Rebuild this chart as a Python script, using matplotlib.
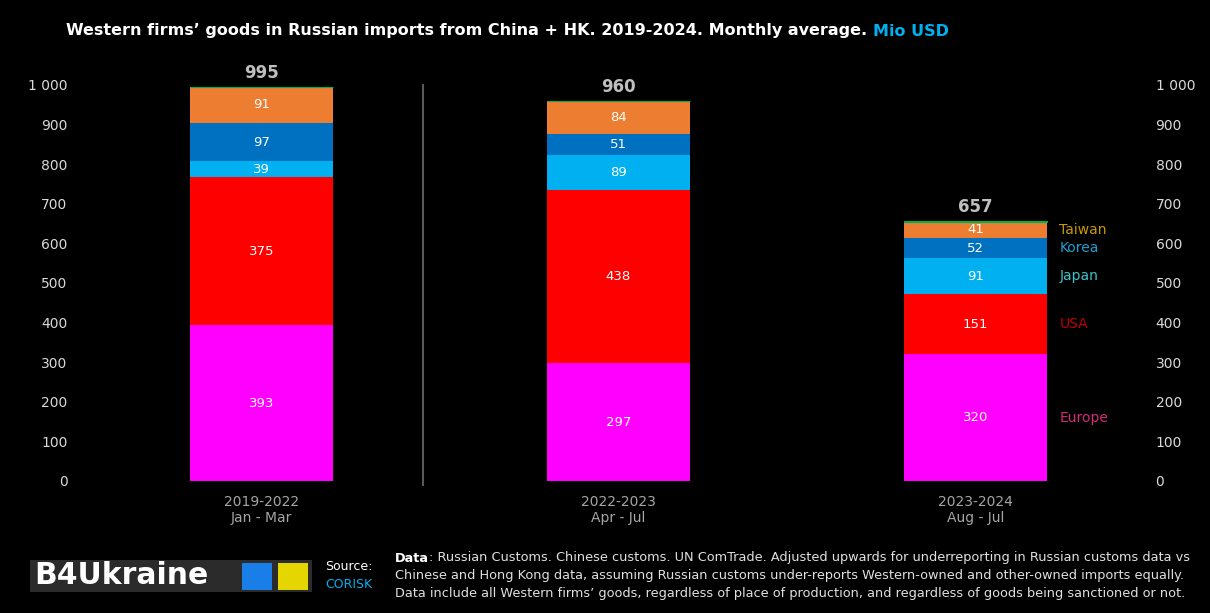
import matplotlib
matplotlib.use('Agg')
import matplotlib.pyplot as plt
from matplotlib.patches import Rectangle

# data (Mio USD, monthly average)
periods = ['2019-2022\nJan - Mar', '2022-2023\nApr - Jul', '2023-2024\nAug - Jul']
regions = ['Europe', 'USA', 'Japan', 'Korea', 'Taiwan', 'Other']
europe = [393, 297, 320]
usa = [375, 438, 151]
japan = [39, 89, 91]
korea = [97, 51, 52]
taiwan = [91, 84, 41]
other = [1, 1, 2]
totals = [995, 960, 657]

seg_colors = ['#ff00ff', '#ff0000', '#00b0f0', '#0070c0', '#ed7d31', '#00b050']
name_colors = ['#d42a78', '#c00000', '#3ec4c8', '#1ea0d2', '#c99a00']

W, H = 1210, 613
fig = plt.figure(figsize=(W / 100, H / 100), dpi=100, facecolor='black')

ax = fig.add_axes([80 / W, (H - 481) / H, (1150 - 80) / W, (481 - 60) / H])
ax.set_facecolor('black')
x = [0, 1, 2]
series = [europe, usa, japan, korea, taiwan, other]

bottom = [0, 0, 0]
for vals, col in zip(series, seg_colors):
    if col == '#00b050':
        # tiny "other" slice on top, drawn with an edge so it shows as a thin line
        ax.bar(x, vals, bottom=bottom, width=0.4, color=col, edgecolor=col, lw=0.8)
    else:
        ax.bar(x, vals, bottom=bottom, width=0.4, color=col, edgecolor='none')
        for i in x:
            ax.text(i, bottom[i] + vals[i] / 2, str(vals[i]), ha='center', va='center',
                    color='white', fontsize=9.5)
    bottom = [b + v for b, v in zip(bottom, vals)]

for i in x:
    ax.text(i, bottom[i] + 12, str(totals[i]), ha='center', va='bottom',
            color='#bfbfbf', fontsize=12, fontweight='bold')

# region names next to last bar
b = 0
for name, vals, col in zip(regions[:5], series[:5], name_colors):
    ax.text(2.235, b + vals[2] / 2, name, ha='left', va='center', color=col, fontsize=10)
    b += vals[2]

# separator line between first and second bar
ax.plot([0.452, 0.452], [1000, -10], color='#595959', lw=1.5, clip_on=False)

ax.set_xlim(-(261.5 - 80) / 357, 2 + (1150 - 975.5) / 357)
ax.set_ylim(0, 1063)
yt = list(range(0, 1001, 100))
ylab = ['1 000' if v == 1000 else str(v) for v in yt]
ax.set_yticks(yt)
ax.set_yticklabels(ylab)
ax.set_xticks(x)
ax.set_xticklabels(periods)
ax.tick_params(axis='y', length=0, pad=9, colors='#d9d9d9', labelsize=10)
ax.tick_params(axis='x', length=0, pad=10, colors='#a6a6a6', labelsize=10)
for s in ax.spines.values():
    s.set_visible(False)

ax2 = ax.twinx()
ax2.set_ylim(0, 1063)
ax2.set_yticks(yt)
ax2.set_yticklabels(ylab)
ax2.tick_params(axis='y', length=0, pad=4, colors='#d9d9d9', labelsize=10)
for s in ax2.spines.values():
    s.set_visible(False)

# title
title = 'Western firms\u2019 goods in Russian imports from China + HK. 2019-2024. Monthly average. '
t1 = fig.text(66 / W, 1 - 31 / H, title, color='white', fontsize=11.5, fontweight='bold', va='center')
fig.canvas.draw()
r = fig.canvas.get_renderer()
tw = t1.get_window_extent(r).width
fig.text(66 / W + tw / W, 1 - 31 / H, 'Mio USD', color='#00b0f0', fontsize=11.5,
         fontweight='bold', va='center')

# logo
fig.patches.append(Rectangle((30 / W, 1 - 592 / H), 282 / W, 32 / H, transform=fig.transFigure,
                             facecolor='#2b2b2b', edgecolor='none'))
fig.text(34 / W, 1 - 576 / H, 'B4Ukraine', color='white', fontsize=21.5, fontweight='bold', va='center')
fig.patches.append(Rectangle((242 / W, 1 - 590 / H), 30 / W, 27 / H, transform=fig.transFigure,
                             facecolor='#1a7ee8', edgecolor='none'))
fig.patches.append(Rectangle((278 / W, 1 - 590 / H), 30 / W, 27 / H, transform=fig.transFigure,
                             facecolor='#e6d600', edgecolor='none'))
fig.text(372 / W, 1 - 566 / H, 'Source:', color='white', fontsize=9, ha='right', va='center')
fig.text(372 / W, 1 - 584 / H, 'CORISK', color='#00b0f0', fontsize=9, ha='right', va='center')

# data note
fs = 9.3
d1 = fig.text(395 / W, 1 - 558 / H, 'Data', color='white', fontsize=fs, fontweight='bold', va='center')
fig.canvas.draw()
dw = d1.get_window_extent(r).width
fig.text(395 / W + dw / W, 1 - 558 / H,
         ': Russian Customs. Chinese customs. UN ComTrade. Adjusted upwards for underreporting in Russian customs data vs',
         color='#e0e0e0', fontsize=fs, va='center')
fig.text(395 / W, 1 - 576 / H,
         'Chinese and Hong Kong data, assuming Russian customs under-reports Western-owned and other-owned imports equally.',
         color='#e0e0e0', fontsize=fs, va='center')
fig.text(395 / W, 1 - 594 / H,
         'Data include all Western firms\u2019 goods, regardless of place of production, and regardless of goods being sanctioned or not.',
         color='#e0e0e0', fontsize=fs, va='center')

fig.savefig('out.png', dpi=100, facecolor='black')
